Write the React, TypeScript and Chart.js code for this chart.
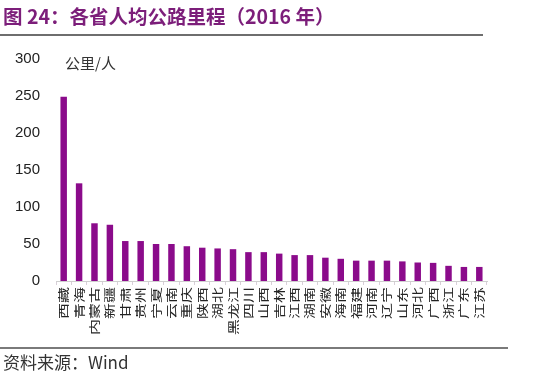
import React, { useEffect, useRef } from "react";
import { Chart, registerables } from "chart.js";

Chart.register(...registerables);

const provinces = [
  "西藏", "青海", "内蒙古", "新疆", "甘肃", "贵州", "宁夏", "云南", "重庆", "陕西",
  "湖北", "黑龙江", "四川", "山西", "吉林", "江西", "湖南", "安徽", "海南", "福建",
  "河南", "辽宁", "山东", "河北", "广西", "浙江", "广东", "江苏",
];
const kmPerPerson = [
  249, 132, 78, 76, 54, 54, 50, 50, 47, 45,
  44, 43, 39, 39, 37, 35, 35, 31.5, 30, 27.5,
  27.5, 27.5, 26.5, 25, 24.5, 20.5, 19, 19,
];
const yMin = 0;
const yMax = 300;
const yStep = 50;

const titleText = "图 24：各省人均公路里程（2016 年）";
const unitText = "公里/人";
const sourceText = "资料来源：Wind";

const BAR = "#8B0B8B";
const CJK = '"Noto Sans CJK SC", "Liberation Sans", Arial, sans-serif';

// Draws the category labels of the x scale, rotated and slightly condensed like the reference.
const condensedLabels = {
  id: "condensedLabels",
  afterDraw(chart: any) {
    const scale = chart.scales.x;
    const ctx = chart.ctx;
    const labels: string[] = chart.data.labels;
    ctx.save();
    ctx.fillStyle = "#222";
    ctx.font = `16px ${CJK}`;
    ctx.textAlign = "right";
    ctx.textBaseline = "middle";
    labels.forEach((lab, i) => {
      const x = scale.getPixelForTick(i);
      ctx.save();
      ctx.translate(x, scale.top + 6);
      ctx.rotate(-Math.PI / 2);
      ctx.scale(1, 0.74);
      ctx.fillText(lab, 0, 0);
      ctx.restore();
    });
    ctx.restore();
  },
};

export default function App() {
  const ref = useRef<HTMLCanvasElement>(null);
  useEffect(() => {
    const chart = new Chart(ref.current!, {
      type: "bar",
      data: {
        labels: provinces,
        datasets: [
          {
            data: kmPerPerson,
            backgroundColor: BAR,
            barPercentage: 0.42,
            categoryPercentage: 1,
          },
        ],
      },
      options: {
        responsive: false,
        animation: false,
        devicePixelRatio: 1,
        layout: { padding: { left: 0, right: 63, top: 59, bottom: 0 } },
        plugins: { legend: { display: false }, tooltip: { enabled: false }, title: { display: false } },
        scales: {
          x: {
            grid: { display: true, drawOnChartArea: false, drawTicks: true, tickLength: 4, color: "#d8cfd8", offset: true },
            border: { display: true, color: "#cfcfcf", width: 1 },
            ticks: { display: false, autoSkip: false },
            afterFit: (s: any) => {
              s.height = 98;
            },
          },
          y: {
            min: yMin,
            max: yMax,
            ticks: { stepSize: yStep, padding: 8, color: "#222", font: { family: '"Liberation Sans", Arial, sans-serif', size: 15 } },
            grid: { display: false },
            border: { display: false },
            afterFit: (s: any) => {
              s.width = 56;
            },
          },
        },
      },
      plugins: [condensedLabels],
    });
    return () => chart.destroy();
  }, []);

  return (
    <div style={{ position: "absolute", left: 0, top: 0, width: 550, height: 379, background: "#fff", overflow: "hidden" }}>
      <canvas ref={ref} width={550} height={379} style={{ position: "absolute", left: 0, top: 0 }} />
      <div
        style={{
          position: "absolute", left: 3, top: 4, fontFamily: CJK, fontWeight: 700, fontSize: 19.5,
          color: "#7C1E7A", lineHeight: "24px", whiteSpace: "nowrap",
        }}
      >
        {titleText}
      </div>
      <div style={{ position: "absolute", left: 0, top: 34, width: 483, height: 2, background: "#6e6e6e" }} />
      <div
        style={{
          position: "absolute", left: 65, top: 53, fontFamily: CJK, fontSize: 15, color: "#333",
          lineHeight: "20px", whiteSpace: "nowrap",
        }}
      >
        {unitText}
      </div>
      <div style={{ position: "absolute", left: 0, top: 347, width: 508, height: 2, background: "#7a7a7a" }} />
      <div
        style={{
          position: "absolute", left: 3, top: 351, fontFamily: CJK, fontSize: 17, color: "#333",
          lineHeight: "22px", whiteSpace: "nowrap",
        }}
      >
        {sourceText}
      </div>
    </div>
  );
}
